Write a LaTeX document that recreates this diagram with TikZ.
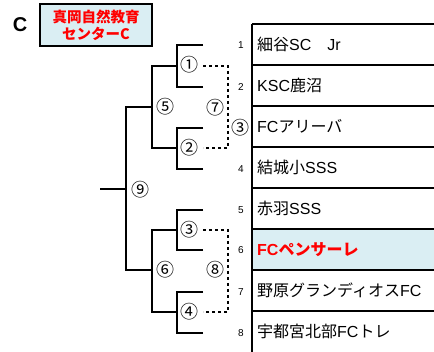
\documentclass[tikz,border=0pt]{standalone}
\usepackage{fontspec}
\setmainfont{Liberation Sans}
\newfontfamily\jp{Noto Sans CJK JP}
\definecolor{hl}{HTML}{DAEEF3}
\definecolor{rd}{HTML}{FF0000}
\tikzset{
  br/.style={line width=1.6pt},
  dotl/.style={line width=1.6pt, dash pattern=on 3pt off 3pt},
  lab/.style={font=\jp\fontsize{18}{18}\selectfont, inner sep=0pt},
  rnum/.style={font=\fontsize{10}{10}\selectfont, inner sep=0pt},
  team/.style={anchor=west, font=\fontsize{16}{16}\selectfont, inner sep=0pt},
}
\begin{document}
\begin{tikzpicture}[x=1pt,y=-1pt]
\useasboundingbox (0,0) rectangle (434,352);
% title
\node[font=\fontsize{20}{20}\selectfont\bfseries, inner sep=0pt] (cc) at (20,25) {C};
\node[draw, br, fill=hl, minimum width=112pt, minimum height=42pt, inner sep=0pt,
  align=center, text=rd, font=\jp\bfseries\fontsize{14.5}{17}\selectfont] (title) at (96,25) {真岡自然教育\\センターC};
% table
\fill[hl] (252,229) rectangle (434,270);
\foreach \y in {24,65,106,147,188,229,270,311} \draw[br] (252,\y) -- (434,\y);
\draw[br] (252,24) -- (252,352);
\node[team] (t1) at (257,44.5) {{\jp 細谷}SC{\jp 　}Jr};
\node[team] (t2) at (257,85.5) {KSC{\jp 鹿沼}};
\node[team] (t3) at (257,126.5) {FC{\jp アリーバ}};
\node[team] (t4) at (257,167.5) {{\jp 結城小}SSS};
\node[team] (t5) at (257,208.5) {{\jp 赤羽}SSS};
\node[team, text=rd, font=\bfseries\fontsize{16}{16}\selectfont] (t6) at (257,249.5) {FC{\jp\bfseries ペンサーレ}};
\node[team] (t7) at (257,290.5) {{\jp 野原グランディオス}FC};
\node[team] (t8) at (257,331.5) {{\jp 宇都宮北部}FC{\jp トレ}};
% row numbers
\node[rnum] (n1) at (241,45) {1};
\node[rnum] (n2) at (241,87) {2};
\node[lab] (n3) at (240,128) {③};
\node[rnum] (n4) at (241,169) {4};
\node[rnum] (n5) at (241,210) {5};
\node[rnum] (n6) at (241,250) {6};
\node[rnum] (n7) at (241,292) {7};
\node[rnum] (n8) at (241,333) {8};
% leaves
\coordinate (l1) at (203,45);
\coordinate (l2) at (203,87);
\coordinate (l3) at (203,128);
\coordinate (l4) at (203,169);
\coordinate (l5) at (203,210);
\coordinate (l6) at (203,250);
\coordinate (l7) at (203,292);
\coordinate (l8) at (203,333);
\coordinate (m1) at (177,66);
\coordinate (m2) at (177,148);
\coordinate (m3) at (177,230);
\coordinate (m4) at (177,312);
\coordinate (q1) at (152,107);
\coordinate (q2) at (152,270);
\coordinate (f) at (126,189);
\coordinate (root) at (100,189);
\draw[br] (l1) -| (m1); \draw[br] (l2) -| (m1);
\draw[br] (l3) -| (m2); \draw[br] (l4) -| (m2);
\draw[br] (l5) -| (m3); \draw[br] (l6) -| (m3);
\draw[br] (l7) -| (m4); \draw[br] (l8) -| (m4);
\draw[br] (m1) -| (q1); \draw[br] (m2) -| (q1);
\draw[br] (m3) -| (q2); \draw[br] (m4) -| (q2);
\draw[br] (q1) -| (f); \draw[br] (q2) -| (f);
\draw[br] (f) -- (root);
% dotted
\coordinate (d1) at (203,66); \coordinate (e1) at (228,66);
\coordinate (d2) at (203,148); \coordinate (e2) at (228,148);
\coordinate (d3) at (203,230); \coordinate (e3) at (228,230);
\coordinate (d4) at (203,312); \coordinate (e4) at (228,312);
\draw[dotl] (d1) -- (e1) -- (e2) -- (d2);
\draw[dotl] (d3) -- (e3) -- (e4) -- (d4);
% labels
\node[lab] (c1) at (189,65) {①};
\node[lab] (c2) at (189,148) {②};
\node[lab] (c3) at (189,230) {③};
\node[lab] (c4) at (189,312) {④};
\node[lab] (c5) at (165,107) {⑤};
\node[lab] (c6) at (165,270) {⑥};
\node[lab] (c7) at (215,108) {⑦};
\node[lab] (c8) at (215,270) {⑧};
\node[lab] (c9) at (140,190) {⑨};
\end{tikzpicture}
\end{document}
